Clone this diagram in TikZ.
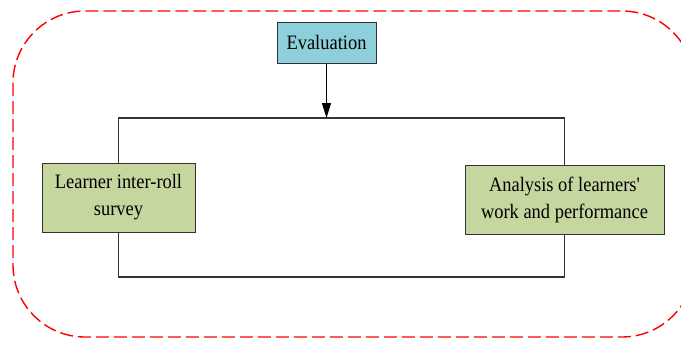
\documentclass[tikz,border=0pt]{standalone}
\usepackage{fontspec}
\newfontfamily\libserif[FakeStretch=0.9]{Liberation Serif}
\usetikzlibrary{arrows.meta}
\definecolor{evalblue}{HTML}{8ECFDC}
\definecolor{boxgreen}{HTML}{C5D69F}
\definecolor{linegray}{HTML}{333333}
\tikzset{
  box/.style={draw=linegray, line width=1pt, align=center, inner sep=0pt,
    font=\libserif\fontsize{20.5}{27}\selectfont},
  conn/.style={draw=linegray, line width=1.2pt},
}
\begin{document}
\begin{tikzpicture}[x=1pt,y=-1pt]
\useasboundingbox (0,0) rectangle (681,340);
\begin{scope}
\clip (0,0) rectangle (681,340);
\draw[red, line width=1.4pt, dash pattern=on 13pt off 5pt, rounded corners=72pt]
  (13,11) rectangle (694,337);
\end{scope}
\node[box, fill=evalblue, minimum width=99pt, minimum height=41pt] (eval) at (326.5,42.5) {Evaluation};
\node[box, fill=boxgreen, minimum width=153pt, minimum height=69pt] (left) at (118.5,197.5) {Learner inter-roll\\survey};
\node[box, fill=boxgreen, minimum width=199pt, minimum height=69pt] (right) at (564.5,199.5) {Analysis of learners'\\work and performance};
\coordinate (top) at (0,118);
\coordinate (bot) at (0,277);
\draw[conn] (left.north) -- (left.north |- top) -- (right.north |- top) -- (right.north);
\draw[conn] (left.south) -- (left.south |- bot) -- (right.south |- bot) -- (right.south);
\draw[conn, draw=black, fill=black, -{Triangle[length=15pt,width=9pt]}] (eval.south) -- (eval.south |- top);
\end{tikzpicture}
\end{document}
